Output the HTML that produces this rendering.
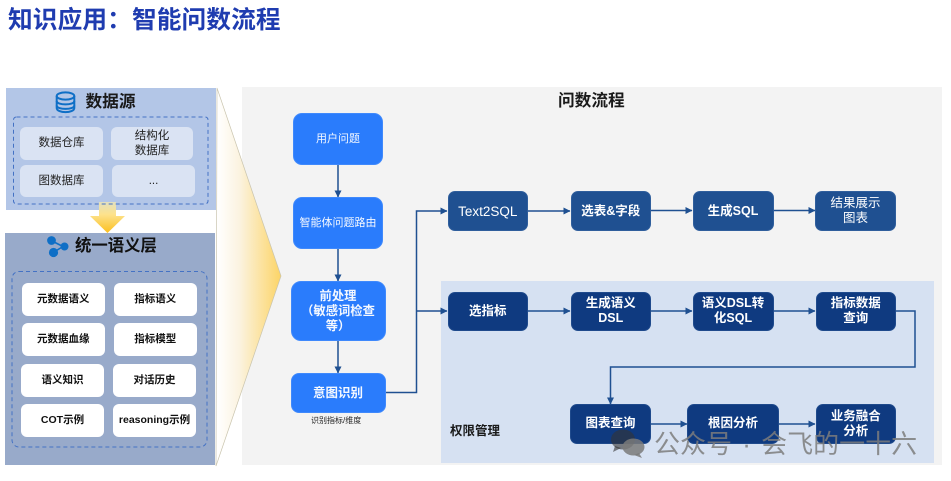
<!DOCTYPE html>
<html><head><meta charset="utf-8">
<style>
html,body{margin:0;padding:0;background:#fff}
#c{position:relative;width:951px;height:481px;overflow:hidden;background:#fff;font-family:"Liberation Sans","Noto Sans CJK SC",sans-serif}
.a{position:absolute;box-sizing:border-box}
.n{position:absolute;box-sizing:border-box;display:flex;align-items:center;justify-content:center;text-align:center;line-height:15px}
.s{background:#dae3f3;border-radius:6px;font-size:11.5px;color:#222;line-height:15px}
.w{background:#fff;border-radius:6px;font-size:10.5px;font-weight:bold;color:#111}
.b{background:#2a7cfc;border-radius:9px;font-size:11px;color:#f4f8ff;border:1px solid #3f89fc}
.t{background:#1f5091;border-radius:7px;font-size:12.5px;color:#fff;border:1px solid #2f5e9c}
.d{background:#0f3a80;border-radius:7px;font-size:12.5px;color:#fff;font-weight:bold;border:1px solid #1f4a8c}
</style></head><body><div id="c">

<div class="a" style="left:8px;top:5px;font-size:24.7px;line-height:32px;letter-spacing:0.1px;font-weight:bold;color:#1f3cb0;white-space:nowrap">知识应用：智能问数流程</div>

<div class="a" style="left:242px;top:87px;width:700px;height:378px;background:#f3f3f3"></div>
<div class="a" style="left:441px;top:281px;width:493px;height:182px;background:#d6e1f2"></div>

<div class="a" style="left:6px;top:88px;width:210px;height:122px;background:#b3c6e7"></div>
<div class="a" style="left:5px;top:233px;width:210px;height:232px;background:#98aaca"></div>

<svg class="a" style="left:0;top:0" width="951" height="481" viewBox="0 0 951 481">
<defs>
<linearGradient id="f" x1="217" x2="281" y1="0" y2="0" gradientUnits="userSpaceOnUse"><stop offset="0" stop-color="#fff"/><stop offset="0.35" stop-color="#fbf3e0"/><stop offset="1" stop-color="#fcd466"/></linearGradient>
<linearGradient id="y" x1="0" x2="0" y1="202" y2="233" gradientUnits="userSpaceOnUse"><stop offset="0" stop-color="#e2e0c0"/><stop offset="0.4" stop-color="#fde28c"/><stop offset="1" stop-color="#fbbf1e"/></linearGradient>
<marker id="m" markerWidth="7" markerHeight="7" refX="6.5" refY="3.5" orient="auto" markerUnits="userSpaceOnUse"><path d="M0,0 L7,3.5 L0,7 Z" fill="#1f5091"/></marker>
</defs>
<polygon points="217,88 281,276 216,466" fill="url(#f)" stroke="#c9c4ae" stroke-width="0.7"/>
<polygon points="99,202 116,202 116,216 125,216 107.5,233 90,216 99,216" fill="url(#y)"/>
<rect x="13.5" y="117" width="194.5" height="87" rx="3" fill="none" stroke="#4472c4" stroke-width="1" stroke-dasharray="4 3"/>
<rect x="12" y="271.5" width="195" height="175.5" rx="7" fill="none" stroke="#4472c4" stroke-width="1" stroke-dasharray="4 3"/>

<!-- db icon -->
<g fill="none" stroke="#0f6fc6" stroke-width="2">
<ellipse cx="65.5" cy="96" rx="8.8" ry="3.6"/>
<path d="M56.7,96 V108 C56.7,113.5 74.3,113.5 74.3,108 V96"/>
<path d="M56.7,101 C56.7,105.5 74.3,105.5 74.3,101"/>
<path d="M56.7,105.5 C56.7,110 74.3,110 74.3,105.5"/>
</g>
<!-- share icon -->
<g fill="#0f6fc6" stroke="#0f6fc6" stroke-width="1.6">
<line x1="52" y1="241" x2="63" y2="246.5"/><line x1="63" y1="246.5" x2="54" y2="252"/>
<circle cx="51.5" cy="240.5" r="3.6"/><circle cx="64.5" cy="246.5" r="3.2"/><circle cx="53.5" cy="252.5" r="3.8"/>
</g>

<!-- connectors -->
<g fill="none" stroke="#1f5091" stroke-width="1.5" marker-end="url(#m)">
<path d="M338,165 V197"/>
<path d="M338,249 V281"/>
<path d="M338,341 V373"/>
<path d="M385,392.5 H416.5 V211 H447"/>
<path d="M416.5,311 H447"/>
<path d="M528,211 H570"/>
<path d="M651,210.5 H692"/>
<path d="M773.5,210.5 H815"/>
<path d="M528,311 H570"/>
<path d="M651,311 H692"/>
<path d="M773.5,311 H815"/>
<path d="M896,311 H915 V367 H610.5 V404"/>
<path d="M651,424 H687"/>
<path d="M779,424 H815"/>
</g>
</svg>

<div class="a" style="left:85.5px;top:91px;font-size:16.7px;line-height:21px;font-weight:bold;color:#1a1a1a;white-space:nowrap">数据源</div>
<div class="a" style="left:75px;top:236px;font-size:16.4px;line-height:21px;font-weight:bold;color:#111;white-space:nowrap">统一语义层</div>
<div class="a" style="left:558px;top:89.5px;font-size:16.7px;line-height:21px;font-weight:bold;color:#1a1a1a;white-space:nowrap">问数流程</div>

<div class="n s" style="left:20px;top:127px;width:83px;height:33px">数据仓库</div>
<div class="n s" style="left:111px;top:127px;width:82px;height:33px">结构化<br>数据库</div>
<div class="n s" style="left:20px;top:165px;width:83px;height:32px">图数据库</div>
<div class="n s" style="left:112px;top:165px;width:83px;height:32px">...</div>

<div class="n w" style="left:22px;top:283px;width:82.5px;height:33px">元数据语义</div>
<div class="n w" style="left:114px;top:283px;width:82.5px;height:33px">指标语义</div>
<div class="n w" style="left:22px;top:323px;width:82.5px;height:33px">元数据血缘</div>
<div class="n w" style="left:114px;top:323px;width:82.5px;height:33px">指标模型</div>
<div class="n w" style="left:21px;top:364px;width:83px;height:33px">语义知识</div>
<div class="n w" style="left:113px;top:364px;width:83px;height:33px">对话历史</div>
<div class="n w" style="left:21px;top:404px;width:83px;height:33px">COT示例</div>
<div class="n w" style="left:113px;top:404px;width:83px;height:33px;white-space:nowrap">reasoning示例</div>

<div class="n b" style="left:293px;top:113px;width:90px;height:52px">用户问题</div>
<div class="n b" style="left:293px;top:197px;width:90px;height:52px;white-space:nowrap">智能体问题路由</div>
<div class="n b" style="left:290.5px;top:281px;width:95px;height:60px;font-size:12.3px;font-weight:bold;border-radius:10px">前处理<br>（敏感词检查<br>等）</div>
<div class="n b" style="left:290.5px;top:373px;width:95px;height:40px;font-size:12.5px;font-weight:bold;border-radius:8px">意图识别</div>
<div class="a" style="left:311px;top:414px;font-size:8px;line-height:13px;color:#222;white-space:nowrap">识别指标/维度</div>

<div class="n t" style="left:447.5px;top:191px;width:80.5px;height:40px;font-size:13.5px">Text2SQL</div>
<div class="n t" style="left:570.5px;top:191px;width:80.5px;height:40px;font-weight:bold">选表&amp;字段</div>
<div class="n t" style="left:692.5px;top:191px;width:81px;height:40px;font-weight:bold">生成SQL</div>
<div class="n t" style="left:815px;top:191px;width:81px;height:40px">结果展示<br>图表</div>

<div class="n d" style="left:447.5px;top:291.5px;width:80.5px;height:39.5px">选指标</div>
<div class="n d" style="left:570.5px;top:291.5px;width:80.5px;height:39.5px">生成语义<br>DSL</div>
<div class="n d" style="left:692.5px;top:291.5px;width:81px;height:39.5px">语义DSL转<br>化SQL</div>
<div class="n d" style="left:815.5px;top:291.5px;width:80.5px;height:39.5px">指标数据<br>查询</div>
<div class="n d" style="left:570px;top:404px;width:81px;height:39.5px">图表查询</div>
<div class="n d" style="left:687px;top:404px;width:92px;height:39.5px">根因分析</div>
<div class="n d" style="left:815.5px;top:404px;width:80.5px;height:39.5px">业务融合<br>分析</div>

<div class="a" style="left:450px;top:423px;font-size:12.5px;line-height:16px;font-weight:bold;color:#1a1a1a;white-space:nowrap">权限管理</div>

<svg class="a" style="left:610px;top:428px" width="38" height="32" viewBox="0 0 38 32">
<ellipse cx="13" cy="11.5" rx="12" ry="10" fill="#333" fill-opacity=".6"/>
<path d="M5,18 L3,24 L11,20 Z" fill="#333" fill-opacity=".6"/>
<ellipse cx="23.5" cy="19" rx="11" ry="8.5" fill="#7a7a7a" fill-opacity=".85"/>
<path d="M29,25 L32,30 L24,27 Z" fill="#7a7a7a" fill-opacity=".85"/>
</svg>
<div class="a" style="left:654px;top:429px;font-size:26px;line-height:30px;word-spacing:3px;color:rgba(125,125,125,.85);white-space:nowrap">公众号 · 会飞的一十六</div>

</div></body></html>
